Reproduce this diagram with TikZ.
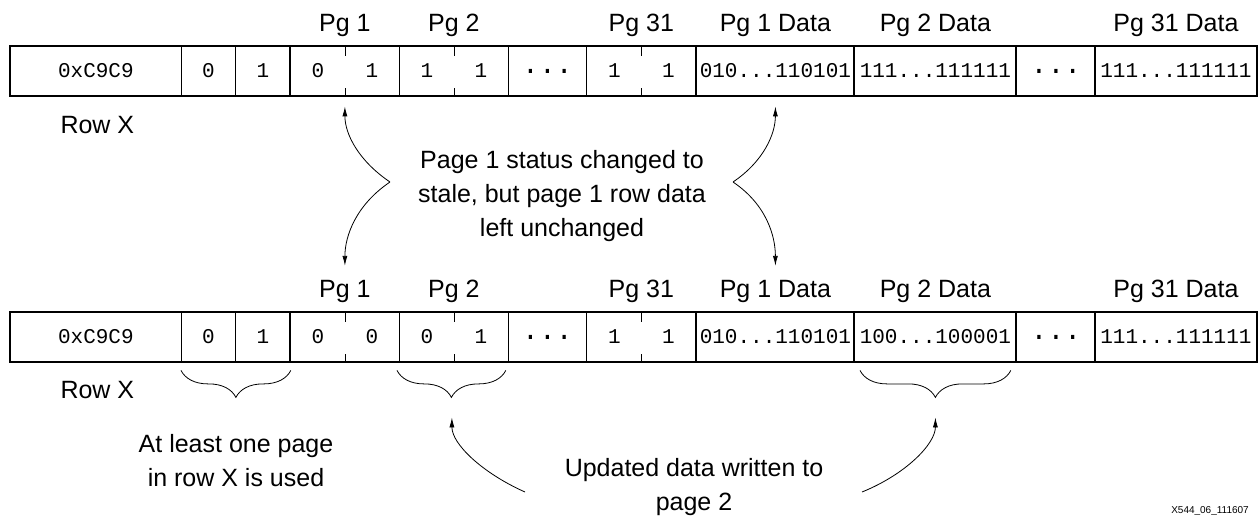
\documentclass[tikz,border=0pt]{standalone}
\usepackage{fontspec}
\setmainfont{Liberation Sans}
\setmonofont{Liberation Mono}
\usepackage{tikz}
\usetikzlibrary{arrows.meta,calc,decorations.pathreplacing,positioning}
\newcommand{\bitpair}[2]{\makebox[54pt]{#1}\makebox[54pt]{#2}}
\newcommand{\bitstr}[2]{#1...#2}
\newcommand{\celldots}{{\fontsize{28}{28}\selectfont...}}
\tikzset{
  cell/.style={draw, line width=0.8pt, minimum height=50pt, inner sep=0pt, anchor=west,
    font=\ttfamily\fontsize{21}{21}\selectfont},
  lbl/.style={font=\fontsize{25}{30}\selectfont, anchor=base},
  note/.style={font=\fontsize{25}{34}\selectfont, align=center},
  sep/.style={line width=2pt},
  frame/.style={line width=2pt},
  tick/.style={line width=0.8pt},
  arr/.style={-{Latex[length=10pt,width=5pt]}, line width=0.8pt},
  brc/.style={decorate, decoration={brace, mirror, amplitude=27pt}, line width=0.8pt}
}
\begin{document}
\begin{tikzpicture}[x=1pt,y=1pt]
\useasboundingbox (0,0) rectangle (1258,-516);
\foreach \nm/\xa/\xb/\txt in {hdr/10/181/0xC9C9, u0/181/235/0, u1/235/290/1,
    pga/290/399/{\bitpair{0}{1}}, pgb/399/508/{\bitpair{1}{1}}, pgd/508/586/{\celldots},
    pgz/586/696/{\bitpair{1}{1}}, da/696/854/{\bitstr{010}{110101}}, db/854/1016/{\bitstr{111}{111111}},
    dd/1016/1095/{\celldots}, dz/1095/1256/{\bitstr{111}{111111}}}
  \node[cell, minimum width=\xb-\xa] (top-\nm) at (\xa,-71) {\txt};
\foreach \nm/\xa/\xb/\txt in {hdr/10/181/0xC9C9, u0/181/235/0, u1/235/290/1,
    pga/290/399/{\bitpair{0}{0}}, pgb/399/508/{\bitpair{0}{1}}, pgd/508/586/{\celldots},
    pgz/586/696/{\bitpair{1}{1}}, da/696/854/{\bitstr{010}{110101}}, db/854/1016/{\bitstr{100}{100001}},
    dd/1016/1095/{\celldots}, dz/1095/1256/{\bitstr{111}{111111}}}
  \node[cell, minimum width=\xb-\xa] (bot-\nm) at (\xa,-337) {\txt};
\foreach \r in {top,bot} {
  \draw[frame] (\r-hdr.north west) rectangle (\r-dz.south east);
  \foreach \c in {pga,da,db,dd,dz}
    \draw[sep] (\r-\c.north west) -- (\r-\c.south west);
  \foreach \c in {pga,pgb,pgz} {
    \draw[tick] (\r-\c.north) -- ++(0,-10);
    \draw[tick] (\r-\c.south) -- ++(0,8);
  }
  \foreach \c/\t in {pga/Pg 1, pgb/Pg 2, pgz/Pg 31, da/Pg 1 Data, db/Pg 2 Data, dz/Pg 31 Data}
    \node[lbl] (\r-lbl-\c) at ([yshift=14pt]\r-\c.north) {\t};
}
\node[lbl, anchor=base west] (rowtop) at (57,-134) {Row X};
\node[lbl, anchor=base west] (rowbot) at (57,-398) {Row X};

\node[note] (stale) at (562,-196) {Page 1 status changed to\\stale, but page 1 row data\\left unchanged};
\coordinate (stl) at (390,-182);
\coordinate (str) at (733,-182);
\draw[arr, shorten >=10pt] (stl) to[out=146,in=-90] (top-pga.south);
\draw[arr, shorten >=11pt] (stl) to[out=-146,in=90] (bot-lbl-pga.north);
\draw[arr, shorten >=10pt] (str) to[out=34,in=-90] (top-da.south);
\draw[arr, shorten >=11pt] (str) to[out=-34,in=90] (bot-lbl-da.north);

\draw[brc] ([yshift=-8pt]bot-u0.south west) -- ([yshift=-8pt]bot-u1.south east);
\draw[brc] ([xshift=-2pt,yshift=-8pt]bot-pgb.south west) -- ([xshift=-3pt,yshift=-8pt]bot-pgb.south east);
\draw[brc] ([xshift=6pt,yshift=-8pt]bot-db.south west) -- ([xshift=-6pt,yshift=-8pt]bot-db.south east);
\coordinate (brA) at ($(bot-u0.south west)!.5!(bot-u1.south east)+(0,-35)$);
\coordinate (brB) at ($(bot-pgb.south)+(-2,-35)$);
\coordinate (brC) at ($(bot-db.south)+(0,-35)$);

\node[note] (used) at (236,-461) {At least one page\\in row X is used};
\node[note] (upd) at (694,-487) {Updated data written to\\page 2};
\coordinate (updl) at (525,-492);
\coordinate (updr) at (862,-492);
\draw[arr, shorten >=20pt] (updl) to[out=156,in=-90] (brB);
\draw[arr, shorten >=20pt] (updr) to[out=22,in=-90] (brC);

\node[font=\fontsize{10}{10}\selectfont, anchor=base] (figid) at (1210,-513) {X544\_06\_111607};
\end{tikzpicture}
\end{document}
